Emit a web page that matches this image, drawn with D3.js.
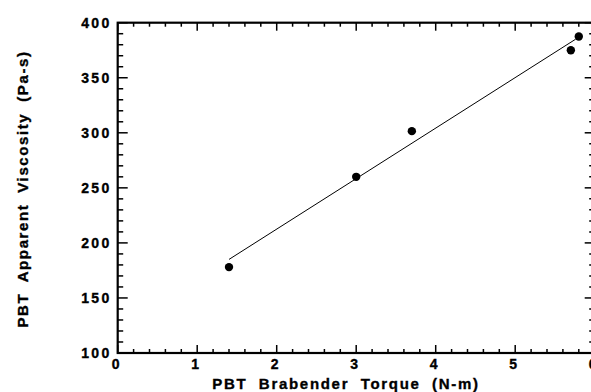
<!DOCTYPE html>
<html><head><meta charset="utf-8">
<script src="https://cdn.jsdelivr.net/npm/d3@7"></script>
<style>body{margin:0;background:#fff}svg{display:block}
text{font-family:"Liberation Sans",Arial,sans-serif;font-weight:bold;fill:#000;stroke:#000;stroke-width:0.35px}</style>
</head><body><svg id="c" width="591" height="392"></svg>
<script>
const torque = [1.4, 3.0, 3.7, 5.7, 5.8];
const viscosity = [178, 260, 301.5, 375, 387.5];
const fitX = [1.4, 5.76];
const fitY = [185, 385];
const xTicks = [0,1,2,3,4,5,6];
const yTicks = [100,150,200,250,300,350,400];
const xTitle = "PBT Brabender Torque (N-m)";
const yTitle = "PBT Apparent Viscosity (Pa-s)";

const svg = d3.select("#c");
const x = d3.scaleLinear().domain([0,6]).range([117.7, 594.7]);
const y = d3.scaleLinear().domain([100,400]).range([353, 22.7]);
const L = x.range()[0], R = x.range()[1], T = y.range()[1], B = y.range()[0];

const g = svg.append("g");
const xMinor = d3.range(0, 6.0001, 0.2).filter(v => Math.abs(v - Math.round(v)) > 1e-6);
const yMinor = d3.range(100, 400.1, 10).filter(v => v % 50 !== 0);

function tickLines(vals, fn, len){
  vals.forEach(v => { const [x1,y1,x2,y2] = fn(v,len);
    g.append("line").attr("x1",x1).attr("y1",y1).attr("x2",x2).attr("y2",y2)
      .attr("stroke","#000").attr("stroke-width",1.5); });
}
tickLines(xTicks, (v,l)=>[x(v),B,x(v),B-l], 8);
tickLines(xMinor, (v,l)=>[x(v),B,x(v),B-l], 4);
tickLines(xTicks, (v,l)=>[x(v),T,x(v),T+l], 8);
tickLines(xMinor, (v,l)=>[x(v),T,x(v),T+l], 4);
tickLines(yTicks, (v,l)=>[L,y(v),L+l,y(v)], 10);
tickLines(yMinor, (v,l)=>[L,y(v),L+l,y(v)], 5.5);
tickLines(yTicks, (v,l)=>[R,y(v),R-l,y(v)], 10);
tickLines(yMinor, (v,l)=>[R,y(v),R-l,y(v)], 5.5);

g.append("rect").attr("x",L).attr("y",T).attr("width",R-L).attr("height",B-T)
  .attr("fill","none").attr("stroke","#000").attr("stroke-width",2.2);

g.selectAll(".yl").data(yTicks).enter().append("text")
  .attr("x", 111.5).attr("y", d => y(d) + 5)
  .attr("text-anchor","end").attr("font-size",14).attr("letter-spacing",2.3)
  .text(d => d);
g.selectAll(".xl").data(xTicks).enter().append("text")
  .attr("x", d => x(d) - 2).attr("y", 369)
  .attr("text-anchor","middle").attr("font-size",14)
  .text(d => d);

g.append("text").attr("x", 346).attr("y", 388.5).attr("text-anchor","middle")
  .attr("font-size",15).attr("letter-spacing",1.7).attr("word-spacing",5.6).text(xTitle);
g.append("text").attr("transform","translate(28,189) rotate(-90)").attr("text-anchor","middle")
  .attr("font-size",15).attr("letter-spacing",1.6).attr("word-spacing",5.2).text(yTitle);

g.append("line").attr("x1",x(fitX[0])).attr("y1",y(fitY[0])).attr("x2",x(fitX[1])).attr("y2",y(fitY[1]))
  .attr("stroke","#000").attr("stroke-width",1);
g.selectAll(".pt").data(torque).enter().append("circle")
  .attr("cx", d => x(d)).attr("cy", (d,i) => y(viscosity[i])).attr("r",4.2).attr("fill","#000");
</script></body></html>
